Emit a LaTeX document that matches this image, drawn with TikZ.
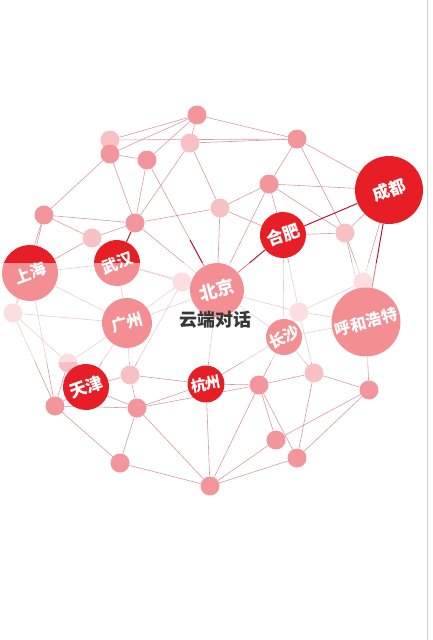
\documentclass[tikz,border=0pt]{standalone}
\usepackage{fontspec}
\newfontfamily\cjk{Noto Sans CJK SC}
\usepackage{tikz}
\usetikzlibrary{calc}
\pgfdeclarelayer{bg}
\pgfdeclarelayer{fg}
\pgfsetlayers{bg,main,fg}
\definecolor{cityred}{RGB}{232,30,38}
\definecolor{dotpink}{RGB}{242,150,155}
\definecolor{farpink}{RGB}{247,192,194}
\definecolor{linkpink}{RGB}{218,152,162}
\definecolor{hotline}{RGB}{178,28,48}
\definecolor{titlegray}{RGB}{55,55,55}
\newcommand{\cjksize}[1]{\cjk\bfseries\fontsize{#1}{#1}\selectfont}
\tikzset{
  dot/.style={
    circle,
    fill=dotpink,
    minimum size=19pt,
    inner sep=0pt,
  },
  far/.style={dot, fill=farpink},
  city/.style={
    circle,
    fill=cityred,
    minimum size=#1,
    inner sep=0pt,
    text=white,
  },
  link/.style={draw=linkpink, line width=0.6pt},
  hot/.style={draw=hotline, line width=1pt},
}

\begin{document}
\begin{tikzpicture}[x=1pt,y=-1pt]
  \useasboundingbox (0,0) rectangle (432,640);
  % small dots
  \node[dot] (n1) at (197,115) {};
  \node[far] (n2) at (110,140) {};
  \node[dot] (n3) at (110,154) {};
  \node[dot] (n4) at (147,160) {};
  \node[far] (n5) at (190,143) {};
  \node[dot] (n6) at (297,139) {};
  \node[dot] (n7) at (269,184) {};
  \node[far] (n8) at (220,208) {};
  \node[dot] (n9) at (44,215) {};
  \node[dot] (n10) at (135,223) {};
  \node[far] (n11) at (92,238) {};
  \node[far] (n12) at (345,233) {};
  \node[far] (n13) at (363,282) {};
  \node[far] (n14) at (13,313) {};
  \node[far] (n15) at (68,363) {};
  \node[far] (n16) at (130,375) {};
  \node[dot] (n17) at (55,406) {};
  \node[dot] (n18) at (137,408) {};
  \node[dot] (n19) at (120,463) {};
  \node[dot] (n20) at (210,486) {};
  \node[far] (n21) at (182,282) {};
  \node[far] (n22) at (299,312) {};
  \node[far] (n23) at (314,373) {};
  \node[dot] (n24) at (259,385) {};
  \node[dot] (n25) at (369,390) {};
  \node[dot] (n26) at (276,440) {};
  \node[dot] (n27) at (297,458) {};
  % cities
  \node[city=56pt, rotate=20, font=\cjksize{16}] (SH) at (30,273) {上海};
  \node[city=46pt, rotate=20, font=\cjksize{16}] (WH) at (117,263) {武汉};
  \node[city=68pt, rotate=20, font=\cjksize{17}] (CD) at (389,190) {成都};
  \node[city=46pt, rotate=20, font=\cjksize{17}] (HF) at (283,235) {合肥};
  \node[city=54pt, rotate=15, font=\cjksize{18}] (BJ) at (217,290) {北京};
  \node[city=50pt, rotate=15, font=\cjksize{16}] (GZ) at (127,323) {广州};
  \node[city=46pt, rotate=20, font=\cjksize{17}] (TJ) at (86,387) {天津};
  \node[city=37pt, rotate=10, font=\cjksize{15}] (HZ) at (206,384) {杭州};
  \node[city=36pt, rotate=25, font=\cjksize{16}] (CS) at (284,337) {长沙};
  \node[city=69pt, rotate=15, font=\cjksize{16}] (HH) at (366,322) {呼和浩特};
  % connectors
  \begin{pgfonlayer}{bg}
    \foreach \a/\b in {n1/n2, n1/n3, n1/n4, n1/n5, n1/n6, n2/n3, n2/n6,
      n3/n9, n3/n10, n3/n4, n4/n10, n4/BJ, n5/n10, n5/n8, n5/n6,
      n6/n7, n6/CD, n6/n12, n7/n8, n7/CD, n7/BJ, n7/n12, n7/HF,
      n8/n10, n8/HF, n8/BJ, n9/n10, n9/n11, n9/SH, n9/n14,
      n10/BJ, n10/n11, n11/WH, n11/SH, SH/WH, SH/n14, SH/n17, SH/GZ,
      WH/BJ, WH/GZ, WH/n21, n12/n13, n12/HH, n12/CD, n12/HF,
      n13/HH, n13/n22, HF/n22, HF/CS, BJ/GZ, BJ/CS, BJ/n21, BJ/HZ,
      BJ/n22, GZ/n16, GZ/n15, GZ/TJ, GZ/n21, GZ/n14, n14/n17, n14/n15,
      n15/TJ, n15/n17, TJ/n16, TJ/n17, TJ/n18, n16/n18, n16/HZ, n16/n21,
      n17/n19, n17/n18, n18/n19, n18/n20, n18/HZ, n18/n24, n19/n20,
      n20/n24, n20/n26, n20/n27, n20/HZ, HZ/n24, HZ/CS, n24/CS,
      n24/n26, n24/n27, n24/n23, n23/n25, n23/n27, n23/CS, n23/n22,
      n25/HH, n25/n26, n25/n27, CS/HH, CS/n22, n22/HH, CD/n13}
      \draw[link] (\a) -- (\b);
    \foreach \a/\b in {WH/n10, HF/BJ, HF/CD, CD/HH}
      \draw[hot] (\a) -- (\b);
    \draw[hot] (BJ) -- ($(BJ)!0.385!(n4)$);
  \end{pgfonlayer}
  % faded band and title
  \begin{pgfonlayer}{fg}
    \fill[white, opacity=0.5] (0,263) rectangle (432,362);
    \node[font=\cjksize{18}, text=titlegray] (title) at (215,320) {云端对话};
    \draw[gray!35, line width=0.8pt] (427,0) -- (427,640);
  \end{pgfonlayer}
\end{tikzpicture}
\end{document}
